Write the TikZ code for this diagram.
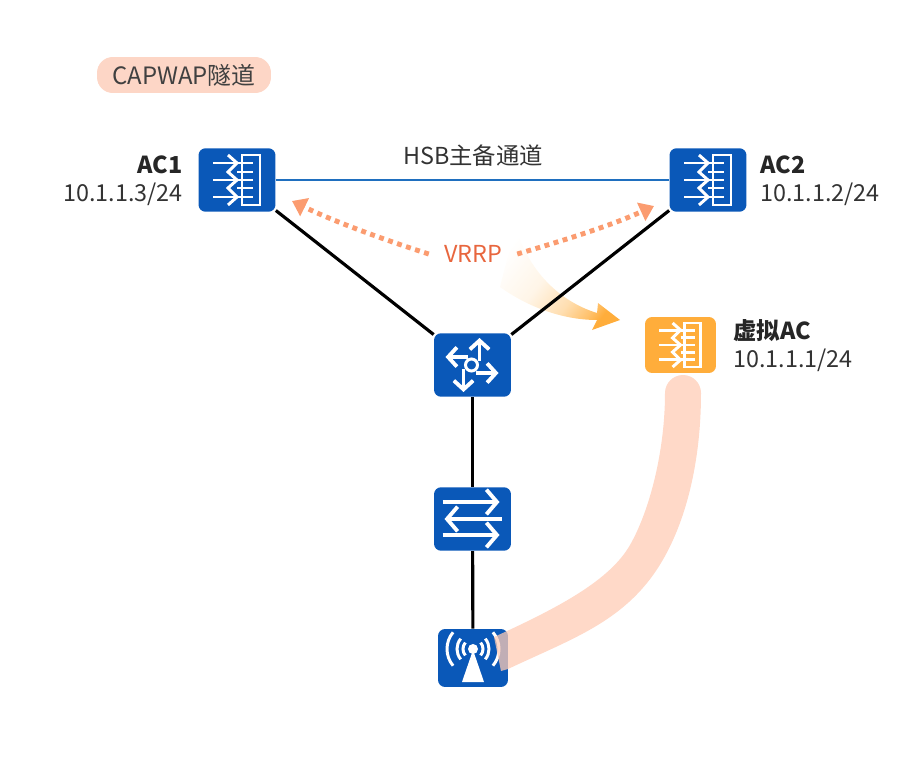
\documentclass[tikz,border=0pt]{standalone}
\usepackage{fontspec}
\setmainfont{Noto Sans CJK SC}
\usetikzlibrary{arrows.meta,fadings}
\definecolor{deviceblue}{HTML}{0A58B8}
\definecolor{linkblue}{HTML}{1F6FBF}
\definecolor{vacorange}{HTML}{FFAD3B}
\definecolor{tunnelpeach}{HTML}{FFCCB5}
\definecolor{legendpeach}{HTML}{FDD6C6}
\definecolor{vrrpdots}{HTML}{FB9C70}
\definecolor{vrrptext}{HTML}{E8663E}
\definecolor{labelgrey}{HTML}{333333}
\pgfdeclarehorizontalshading{moveramp}{100bp}{color(0bp)=(black); color(25bp)=(black);
  color(45bp)=(black!88); color(60bp)=(black!60); color(70bp)=(black!25); color(75bp)=(white); color(100bp)=(white)}
\pgfdeclarefading{movefade}{\pgfuseshading{moveramp}}
\tikzset{
  devicebox/.style = {fill=deviceblue, rounded corners=4pt, inner sep=0pt,
                      minimum width=1.54cm, minimum height=1.27cm},
  iconline/.style  = {white, line width=1.7pt},
  routerarrow/.style = {white, line width=2.2pt, -{Straight Barb[length=5pt,width=11pt,line width=2.2pt]}},
  switcharrow/.style = {white, line width=2.2pt, -{Straight Barb[length=6pt,width=14pt,line width=2.2pt]}},
  labeltext/.style = {inner sep=0pt, text=labelgrey, font=\fontsize{13.3}{15}\selectfont},
  labelname/.style = {inner sep=0pt, text=black!85, font=\fontsize{13.3}{15}\bfseries\selectfont},
  acicon/.pic = {
    \draw [iconline] (5,-25) rectangle (23,25);
    \draw [iconline] (-24,-17) -- (0,-17);
    \draw [iconline] (-24,0) -- (0,0);
    \draw [iconline] (-24,17) -- (0,17);
    \draw [iconline] (-9,-25) -- (0,-17) -- (-9,-8) -- (0,0) -- (-9,8) -- (0,17) -- (-9,25);
    \draw [iconline] (0,-8) -- (16,-8);
    \draw [iconline] (0,-17) -- (16,-17);
    \draw [iconline] (0,0) -- (16,0);
    \draw [iconline] (0,8) -- (16,8);
    \draw [iconline] (0,17) -- (16,17);
  },
  routericon/.pic = {
    \draw [iconline] (-1,0) circle [radius=6];
    \draw [routerarrow] (7,-4) -- (7,-27);
    \draw [routerarrow] (-5,-8) -- (-27,-8);
    \draw [routerarrow] (3,8) -- (26,8);
    \draw [routerarrow] (-9,4) -- (-9,27);
  },
  switchicon/.pic = {
    \draw [switcharrow] (-30,-17) -- (27,-17);
    \draw [switcharrow] (29,0) -- (-28,0);
    \draw [switcharrow] (-30,16) -- (27,16);
  },
  apicon/.pic = {
    \fill [white] (0,-9) circle [radius=5];
    \fill [white] (0,-8) -- (11,24) -- (-11,24) -- cycle;
    \foreach \r in {10,16,26} {
      \draw [iconline] (0,-9) ++(140:\r) arc [start angle=140, end angle=220, radius=\r];
      \draw [iconline] (0,-9) ++(-40:\r) arc [start angle=-40, end angle=40, radius=\r];
    }
  }
}
\begin{document}
\begin{tikzpicture}[x=0.02cm,y=-0.02cm]
\useasboundingbox (0,0) rectangle (900,757);
%% legend
\node (legend) [fill=legendpeach, rounded corners=9pt, minimum width=3.48cm, minimum height=0.72cm,
  inner sep=0pt, text=black!75, font=\fontsize{13.6}{15}\selectfont] at (184,75) {CAPWAP隧道};
%% move arrow
\fill [vacorange, path fading=movefade, fading angle=-35]
  (515,223) .. controls (525,265) and (555,300) .. (597,313)
  -- (598,303) -- (620,320) -- (592,330) -- (597,320)
  .. controls (560,320) and (525,305) .. (500,287)
  .. controls (505,265) and (512,245) .. (515,223) -- cycle;
%% devices
\node (ac1) [devicebox] at (237,180) {};
\node (ac2) [devicebox] at (708,180) {};
\node (router) [devicebox] at (472.5,365) {};
\node (switch) [devicebox] at (472.5,519) {};
\node (ap) [devicebox, minimum width=1.4cm, minimum height=1.16cm] at (473,658) {};
\node (vac) [devicebox, fill=vacorange, minimum width=1.42cm, minimum height=1.12cm] at (680.5,345) {};
%% links
\draw [linkblue, line width=1.4pt] (ac1) -- (ac2);
\draw [black, line width=1.8pt] (ac1) -- (router);
\draw [black, line width=1.8pt] (ac2) -- (router);
\draw [black, line width=1.8pt] (router) -- (switch);
\draw [black, line width=1.8pt] (switch) -- (ap);
%% icons
\pic at (ac1) {acicon};
\pic at (ac2) {acicon};
\pic [scale=0.88] at (vac) {acicon};
\pic at (router) {routericon};
\pic at (switch) {switchicon};
\pic at (ap) {apicon};
%% tunnel
\fill [tunnelpeach, opacity=0.75]
  (665,393) arc [start angle=180, end angle=360, radius=18]
  .. controls (701,470) and (682,540) .. (647,583)
  .. controls (612,626) and (565,642) .. (508,669)
  -- (501,671) -- (494,637)
  .. controls (560,607) and (610,580) .. (630,545)
  .. controls (650,510) and (665,450) .. (665,393) -- cycle;
%% labels
\node (ac1name) [labelname, anchor=east] at (183,165) {AC1};
\node (ac1ip) [labeltext, anchor=east] at (183,194) {10.1.1.3/24};
\node (ac2name) [labelname, anchor=west] at (760,165) {AC2};
\node (ac2ip) [labeltext, anchor=west] at (760,194) {10.1.1.2/24};
\node (vacname) [labelname, anchor=west] at (733,331) {虚拟AC};
\node (vacip) [labeltext, anchor=west] at (733,360) {10.1.1.1/24};
\node (hsb) [labeltext] at (473,156) {HSB主备通道};
\node (vrrp) [labeltext, text=vrrptext, inner xsep=8.5pt] at (473,254) {VRRP};
%% vrrp arrows
\coordinate (vrrpleft) at (292,201);
\coordinate (vrrpright) at (654,206);
\draw [vrrpdots, line width=2.8pt, dash pattern=on 2.8pt off 2.6pt, -{Triangle[length=8pt,width=11pt]}]
  (vrrp.west) .. controls (385,240) and (335,222) .. (vrrpleft);
\draw [vrrpdots, line width=2.8pt, dash pattern=on 2.8pt off 2.6pt, -{Triangle[length=8pt,width=11pt]}]
  (vrrp.east) .. controls (565,240) and (610,226) .. (vrrpright);
\end{tikzpicture}
\end{document}
